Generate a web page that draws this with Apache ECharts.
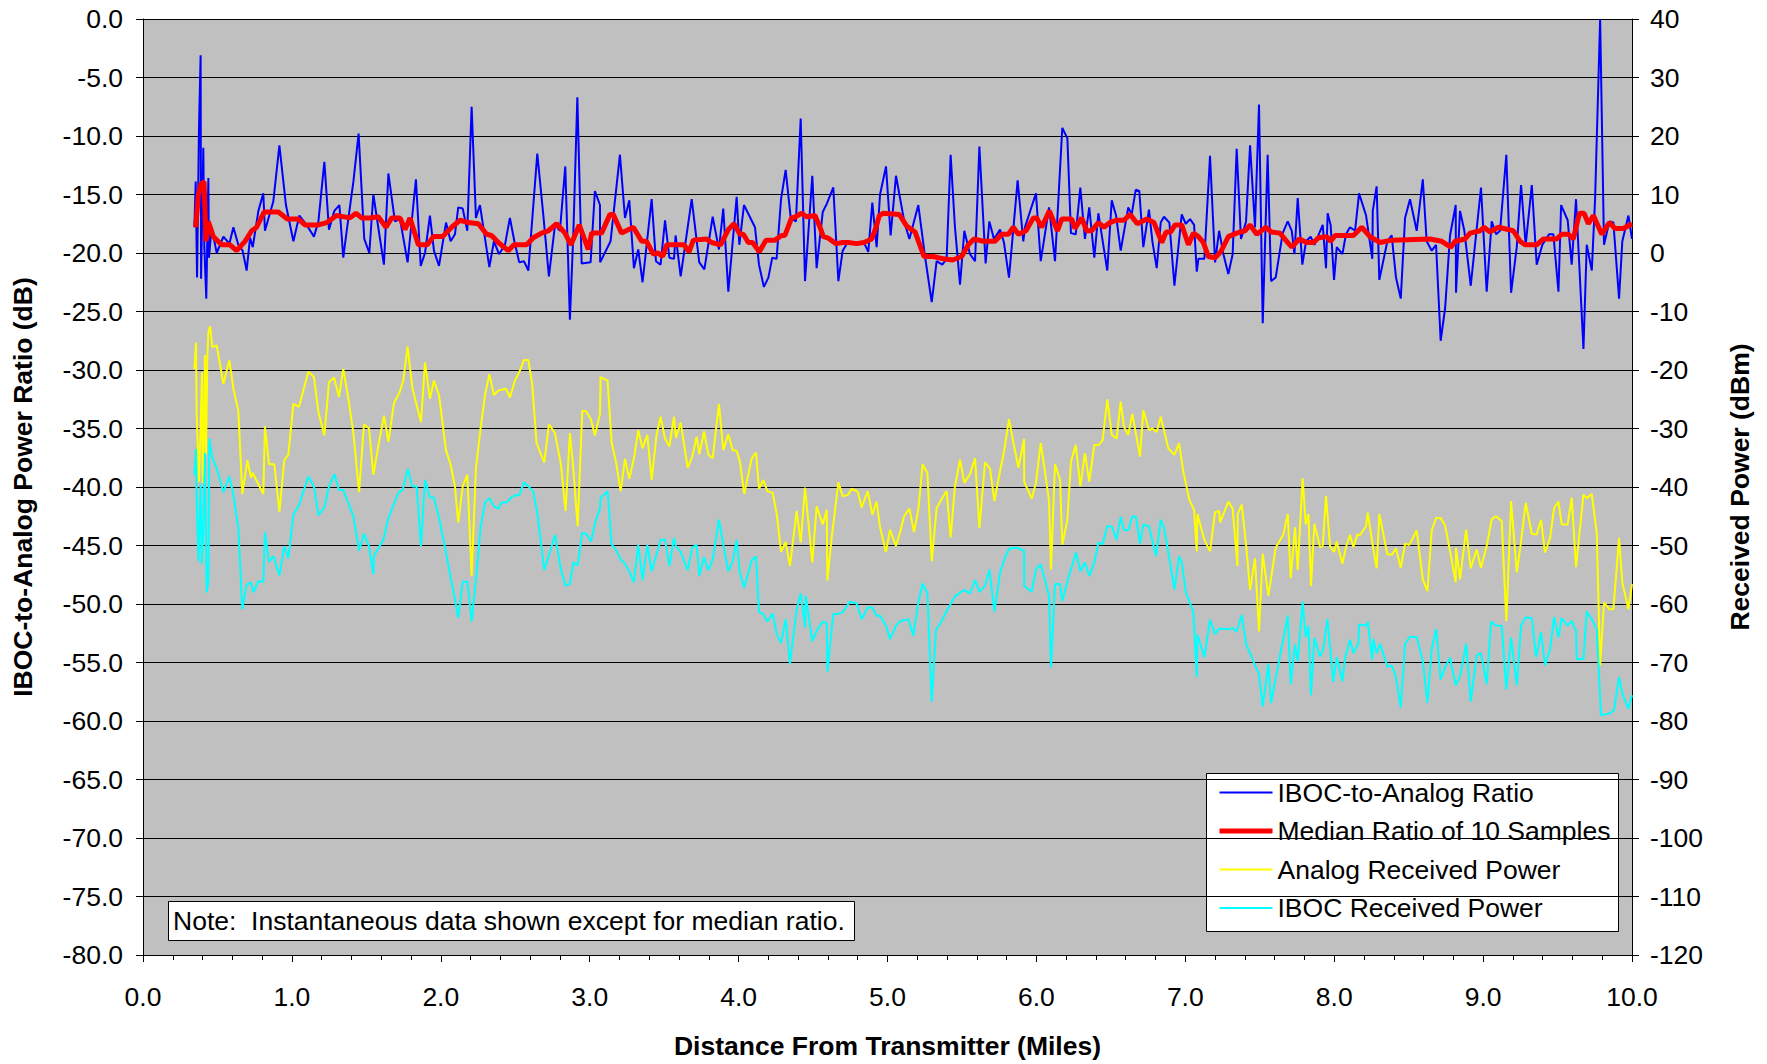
<!DOCTYPE html>
<html>
<head>
<meta charset="utf-8">
<title>IBOC-to-Analog Power Ratio</title>
<script src="https://cdn.jsdelivr.net/npm/echarts@6/dist/echarts.min.js"></script>
<style>
  html, body { margin: 0; padding: 0; background: #fff; }
  #main { width: 1767px; height: 1064px; }
</style>
</head>
<body>
<div id="main"></div>
<script>
// IBOC-to-analog ratio (dB, left axis)
const ratioMiles = [
  0.345, 0.354, 0.363, 0.376, 0.387, 0.390, 0.405, 0.412, 0.425, 0.439, 0.443, 0.461, 0.495, 0.540, 0.580, 0.607,
  0.640, 0.669, 0.696, 0.719, 0.737, 0.775, 0.808, 0.819, 0.875, 0.916, 0.960, 1.010, 1.050, 1.099, 1.148, 1.178,
  1.218, 1.249, 1.285, 1.319, 1.345, 1.368, 1.413, 1.448, 1.486, 1.520, 1.547, 1.580, 1.618, 1.648, 1.692, 1.726,
  1.777, 1.833, 1.865, 1.894, 1.927, 1.954, 1.988, 2.035, 2.066, 2.095, 2.117, 2.147, 2.178, 2.207, 2.236, 2.263,
  2.326, 2.357, 2.391, 2.431, 2.464, 2.494, 2.527, 2.558, 2.588, 2.610, 2.648, 2.688, 2.726, 2.767, 2.800, 2.836,
  2.867, 2.890, 2.917, 2.946, 3.006, 3.035, 3.069, 3.070, 3.140, 3.203, 3.237, 3.266, 3.297, 3.326, 3.355, 3.416,
  3.445, 3.476, 3.506, 3.535, 3.566, 3.577, 3.611, 3.685, 3.736, 3.770, 3.826, 3.868, 3.897, 3.931, 3.987, 4.005,
  4.036, 4.110, 4.137, 4.170, 4.200, 4.226, 4.255, 4.285, 4.316, 4.350, 4.385, 4.417, 4.446, 4.495, 4.524, 4.565,
  4.592, 4.636, 4.670, 4.699, 4.737, 4.793, 4.838, 4.871, 4.898, 4.927, 4.950, 4.990, 5.021, 5.057, 5.114, 5.147,
  5.207, 5.252, 5.297, 5.330, 5.368, 5.397, 5.424, 5.453, 5.487, 5.516, 5.554, 5.588, 5.617, 5.659, 5.684, 5.715,
  5.756, 5.782, 5.816, 5.874, 5.912, 5.923, 5.997, 6.029, 6.085, 6.125, 6.174, 6.208, 6.232, 6.264, 6.295, 6.326,
  6.355, 6.389, 6.416, 6.476, 6.506, 6.535, 6.566, 6.617, 6.640, 6.667, 6.691, 6.718, 6.756, 6.779, 6.808, 6.835,
  6.857, 6.893, 6.927, 6.976, 7.003, 7.032, 7.059, 7.077, 7.088, 7.128, 7.166, 7.200, 7.227, 7.256, 7.289, 7.318,
  7.345, 7.374, 7.408, 7.435, 7.468, 7.495, 7.520, 7.553, 7.576, 7.607, 7.654, 7.688, 7.715, 7.733, 7.755, 7.786,
  7.811, 7.842, 7.867, 7.923, 7.945, 7.956, 7.976, 7.999, 8.017, 8.055, 8.079, 8.106, 8.140, 8.167, 8.214, 8.256,
  8.259, 8.285, 8.303, 8.357, 8.386, 8.415, 8.447, 8.476, 8.509, 8.554, 8.595, 8.621, 8.655, 8.684, 8.715, 8.745,
  8.778, 8.816, 8.818, 8.845, 8.874, 8.917, 8.986, 9.024, 9.058, 9.087, 9.114, 9.156, 9.188, 9.226, 9.255, 9.286,
  9.327, 9.360, 9.398, 9.443, 9.472, 9.506, 9.524, 9.568, 9.595, 9.624, 9.674, 9.696, 9.730, 9.752, 9.786, 9.812,
  9.848, 9.875, 9.913, 9.935, 9.976, 10.000
];
const ratioDb = [
  -17.8, -13.9, -22.1, -9.3, -3.1, -22.2, -11.0, -19.5, -23.9, -13.6, -20.4, -17.8, -20.0, -18.6, -19.2, -17.8,
  -19.3, -19.8, -21.5, -18.7, -19.5, -16.4, -14.9, -18.1, -15.6, -10.8, -15.9, -19.0, -16.8, -17.6, -18.6, -17.3,
  -12.2, -18.0, -16.4, -15.9, -20.4, -18.1, -13.9, -9.8, -18.8, -20.0, -15.0, -17.8, -21.0, -13.2, -17.3, -17.1,
  -20.8, -13.7, -21.1, -20.0, -16.8, -19.8, -21.1, -17.4, -19.0, -18.4, -16.1, -16.2, -18.1, -7.5, -17.0, -15.9,
  -21.2, -19.0, -20.1, -19.3, -17.0, -19.0, -20.8, -20.7, -21.5, -17.8, -11.5, -16.7, -22.0, -17.6, -18.1, -12.6,
  -25.7, -18.4, -6.7, -20.9, -20.8, -14.7, -15.9, -20.8, -19.0, -11.6, -17.0, -15.5, -21.3, -19.7, -22.5, -15.4,
  -20.7, -21.0, -17.2, -20.4, -20.5, -18.5, -22.0, -15.4, -20.8, -21.4, -16.9, -19.7, -16.2, -23.3, -15.2, -19.3,
  -15.9, -17.8, -21.0, -22.9, -22.1, -20.4, -20.5, -15.4, -12.9, -17.0, -17.3, -8.5, -22.4, -13.4, -21.3, -16.5,
  -15.8, -14.4, -22.4, -19.8, -19.0, -19.3, -19.0, -19.9, -15.7, -19.5, -15.0, -12.6, -18.5, -13.4, -17.4, -18.8,
  -15.9, -20.3, -24.2, -20.7, -21.0, -20.5, -11.6, -17.8, -22.7, -18.1, -20.1, -20.7, -10.9, -20.9, -17.3, -18.8,
  -18.0, -19.1, -22.1, -13.8, -19.0, -17.8, -14.9, -20.7, -16.1, -20.7, -9.3, -10.2, -18.3, -18.4, -14.4, -18.8,
  -16.1, -20.4, -16.6, -21.5, -15.5, -16.8, -19.8, -16.1, -16.7, -14.6, -14.7, -19.5, -16.3, -19.0, -21.3, -17.4,
  -16.9, -17.4, -22.8, -16.7, -17.5, -17.1, -17.6, -21.6, -20.5, -20.5, -11.7, -20.8, -18.1, -20.1, -21.8, -20.1,
  -11.1, -18.8, -17.3, -10.8, -17.8, -7.3, -26.0, -11.6, -22.4, -22.1, -18.3, -17.3, -18.1, -20.1, -15.3, -21.0,
  -19.0, -18.6, -19.3, -17.6, -21.3, -16.6, -17.6, -22.3, -19.5, -20.1, -18.4, -17.8, -18.1, -14.9, -16.8, -20.5,
  -16.4, -14.3, -22.3, -19.0, -18.5, -22.1, -23.9, -17.0, -15.4, -18.1, -13.7, -19.0, -19.8, -19.3, -27.5, -24.7,
  -18.5, -15.9, -23.4, -16.4, -18.1, -22.8, -14.4, -23.3, -17.3, -18.4, -18.1, -11.6, -23.4, -19.5, -14.2, -19.3,
  -14.2, -21.0, -19.3, -18.4, -18.4, -23.3, -15.9, -17.2, -21.0, -15.4, -28.2, -19.3, -21.5, -15.4, 0.0, -19.3,
  -17.3, -17.4, -23.9, -19.0, -16.8, -18.8
];

// median ratio of 10 samples (dB, left axis)
const medianMiles = [
  0.354, 0.372, 0.390, 0.410, 0.423, 0.439, 0.472, 0.528, 0.584, 0.629, 0.685, 0.730, 0.763, 0.813, 0.909, 0.969,
  1.043, 1.088, 1.178, 1.234, 1.301, 1.390, 1.430, 1.468, 1.524, 1.580, 1.632, 1.670, 1.726, 1.760, 1.793, 1.849,
  1.909, 1.950, 2.012, 2.073, 2.129, 2.185, 2.252, 2.308, 2.341, 2.386, 2.453, 2.491, 2.576, 2.621, 2.677, 2.722,
  2.778, 2.834, 2.874, 2.930, 2.990, 3.013, 3.080, 3.136, 3.158, 3.214, 3.293, 3.349, 3.382, 3.427, 3.460, 3.490,
  3.517, 3.633, 3.667, 3.696, 3.785, 3.819, 3.879, 3.931, 3.969, 4.009, 4.032, 4.065, 4.094, 4.139, 4.184, 4.244,
  4.289, 4.311, 4.356, 4.385, 4.423, 4.457, 4.513, 4.547, 4.569, 4.598, 4.654, 4.699, 4.737, 4.793, 4.842, 4.894,
  4.923, 4.945, 4.972, 5.079, 5.129, 5.185, 5.245, 5.308, 5.375, 5.438, 5.498, 5.543, 5.581, 5.644, 5.722, 5.767,
  5.812, 5.845, 5.879, 5.930, 5.979, 6.002, 6.035, 6.087, 6.141, 6.170, 6.237, 6.259, 6.304, 6.338, 6.371, 6.416,
  6.454, 6.494, 6.535, 6.588, 6.629, 6.678, 6.741, 6.790, 6.842, 6.871, 6.902, 6.931, 6.976, 7.021, 7.054, 7.088,
  7.121, 7.155, 7.200, 7.238, 7.289, 7.345, 7.401, 7.435, 7.480, 7.542, 7.576, 7.636, 7.681, 7.715, 7.766, 7.815,
  7.860, 7.894, 7.950, 7.976, 8.006, 8.129, 8.185, 8.240, 8.308, 8.386, 8.644, 8.722, 8.783, 8.812, 8.879, 8.913,
  8.980, 9.006, 9.047, 9.103, 9.203, 9.248, 9.282, 9.360, 9.405, 9.494, 9.528, 9.573, 9.606, 9.647, 9.678, 9.707,
  9.741, 9.797, 9.848, 9.886, 9.942, 10.000
];
const medianDb = [
  -17.8, -15.0, -14.1, -13.9, -19.0, -17.3, -18.6, -19.3, -19.3, -19.8, -19.0, -18.1, -17.8, -16.5, -16.5, -17.1,
  -17.1, -17.6, -17.6, -17.4, -16.8, -17.0, -16.6, -17.0, -17.0, -16.9, -17.8, -17.0, -17.0, -18.0, -17.0, -19.3,
  -19.3, -18.6, -18.6, -17.8, -17.2, -17.4, -17.5, -18.4, -18.5, -19.1, -19.8, -19.3, -19.3, -18.7, -18.3, -18.1,
  -17.5, -18.3, -19.3, -17.6, -19.7, -18.3, -18.3, -16.7, -16.7, -18.3, -17.8, -19.0, -19.0, -20.1, -20.0, -20.3,
  -19.3, -19.3, -19.9, -18.9, -18.8, -19.1, -19.3, -18.0, -17.5, -18.4, -18.4, -19.1, -19.1, -19.9, -18.9, -18.9,
  -18.5, -18.5, -17.0, -16.9, -16.6, -16.9, -16.8, -17.8, -18.6, -18.7, -19.2, -19.1, -19.1, -19.2, -19.1, -18.8,
  -17.8, -16.8, -16.6, -16.7, -17.7, -18.2, -20.3, -20.3, -20.5, -20.6, -20.3, -19.3, -18.8, -19.0, -19.0, -18.4,
  -18.4, -17.8, -18.4, -18.1, -17.0, -17.0, -17.8, -16.4, -18.1, -17.1, -17.1, -17.9, -17.0, -18.1, -18.1, -17.4,
  -17.8, -17.4, -17.2, -17.2, -16.7, -17.5, -17.1, -17.4, -19.1, -18.2, -18.2, -17.6, -17.6, -19.3, -18.3, -18.6,
  -19.1, -20.3, -20.4, -19.9, -18.6, -18.3, -18.1, -17.6, -18.4, -17.8, -18.2, -18.3, -19.0, -19.5, -18.8, -19.1,
  -19.1, -18.7, -18.6, -19.0, -18.5, -18.5, -17.8, -18.6, -19.1, -18.9, -18.8, -19.0, -19.5, -19.0, -18.8, -18.3,
  -18.1, -17.8, -18.2, -17.8, -18.1, -19.0, -19.3, -19.3, -18.8, -18.8, -18.4, -18.4, -18.8, -16.6, -16.6, -17.5,
  -16.8, -18.4, -17.4, -17.9, -17.9, -17.5
];

// analog received power (dBm, right axis)
const analogMiles = [
  0.345, 0.356, 0.360, 0.376, 0.387, 0.396, 0.401, 0.410, 0.416, 0.423, 0.432, 0.439, 0.450, 0.466, 0.495, 0.540,
  0.580, 0.607, 0.640, 0.667, 0.701, 0.725, 0.737, 0.808, 0.819, 0.846, 0.882, 0.916, 0.949, 0.976, 1.010, 1.048,
  1.110, 1.148, 1.178, 1.218, 1.249, 1.283, 1.316, 1.345, 1.379, 1.413, 1.451, 1.484, 1.518, 1.547, 1.585, 1.619,
  1.648, 1.686, 1.722, 1.748, 1.777, 1.809, 1.867, 1.894, 1.927, 1.954, 1.988, 2.035, 2.066, 2.095, 2.117, 2.147,
  2.178, 2.207, 2.236, 2.267, 2.297, 2.326, 2.357, 2.386, 2.438, 2.464, 2.498, 2.527, 2.558, 2.588, 2.614, 2.643,
  2.695, 2.726, 2.767, 2.807, 2.838, 2.867, 2.890, 2.919, 2.950, 2.975, 3.008, 3.035, 3.069, 3.073, 3.120, 3.147,
  3.176, 3.208, 3.237, 3.266, 3.299, 3.326, 3.355, 3.387, 3.416, 3.449, 3.476, 3.506, 3.535, 3.566, 3.579, 3.611,
  3.658, 3.689, 3.718, 3.736, 3.768, 3.797, 3.826, 3.868, 3.897, 3.931, 3.960, 3.987, 4.009, 4.038, 4.088, 4.117,
  4.137, 4.166, 4.193, 4.229, 4.256, 4.285, 4.316, 4.345, 4.390, 4.417, 4.446, 4.495, 4.524, 4.565, 4.592, 4.596,
  4.625, 4.670, 4.699, 4.737, 4.759, 4.800, 4.826, 4.867, 4.898, 4.927, 4.950, 4.990, 5.017, 5.057, 5.086, 5.111,
  5.147, 5.178, 5.207, 5.236, 5.268, 5.297, 5.330, 5.368, 5.397, 5.424, 5.453, 5.487, 5.516, 5.554, 5.588, 5.617,
  5.655, 5.688, 5.718, 5.751, 5.782, 5.816, 5.845, 5.879, 5.917, 5.918, 5.968, 5.997, 6.029, 6.058, 6.085, 6.098,
  6.125, 6.159, 6.174, 6.208, 6.232, 6.264, 6.295, 6.326, 6.355, 6.389, 6.420, 6.445, 6.476, 6.506, 6.539, 6.566,
  6.588, 6.617, 6.644, 6.696, 6.718, 6.756, 6.779, 6.808, 6.835, 6.886, 6.927, 6.958, 6.987, 7.027, 7.059, 7.077,
  7.081, 7.128, 7.166, 7.200, 7.227, 7.233, 7.289, 7.318, 7.350, 7.352, 7.379, 7.408, 7.435, 7.468, 7.495, 7.520,
  7.558, 7.607, 7.659, 7.688, 7.708, 7.737, 7.755, 7.788, 7.809, 7.827, 7.844, 7.867, 7.905, 7.923, 7.945, 7.972,
  7.999, 8.017, 8.055, 8.079, 8.106, 8.129, 8.156, 8.174, 8.214, 8.225, 8.256, 8.285, 8.303, 8.357, 8.386, 8.415,
  8.447, 8.476, 8.505, 8.554, 8.595, 8.626, 8.655, 8.684, 8.715, 8.745, 8.778, 8.816, 8.818, 8.845, 8.886, 8.917,
  8.957, 8.986, 9.024, 9.058, 9.087, 9.125, 9.156, 9.188, 9.226, 9.255, 9.286, 9.327, 9.360, 9.389, 9.416, 9.450,
  9.477, 9.506, 9.528, 9.568, 9.595, 9.624, 9.674, 9.696, 9.730, 9.763, 9.786, 9.812, 9.848, 9.875, 9.913, 9.935,
  9.976, 10.000
];
const analogDbm = [
  -19.8, -15.3, -27.2, -39.1, -29.7, -20.4, -39.3, -29.7, -17.5, -34.5, -17.8, -13.6, -12.5, -16.1, -15.8, -22.4,
  -18.3, -23.2, -26.9, -41.2, -35.4, -38.4, -37.6, -41.2, -29.6, -36.1, -36.1, -44.2, -35.4, -34.5, -25.8, -26.3,
  -20.3, -21.2, -27.2, -31.2, -22.1, -21.3, -24.6, -19.8, -24.9, -30.8, -40.9, -29.3, -30.0, -37.9, -32.3, -27.8,
  -32.3, -25.6, -23.9, -21.8, -16.0, -23.1, -28.9, -18.7, -24.9, -21.8, -24.3, -33.7, -36.2, -39.9, -46.1, -39.9,
  -37.9, -55.2, -36.8, -30.0, -24.3, -20.7, -24.3, -23.5, -23.2, -24.7, -21.8, -20.4, -18.3, -18.3, -22.4, -32.5,
  -35.8, -29.3, -30.8, -36.2, -44.1, -30.8, -36.8, -46.7, -27.0, -27.0, -28.4, -31.2, -27.5, -21.2, -21.8, -32.3,
  -35.7, -40.7, -35.2, -38.6, -34.8, -30.3, -33.4, -31.1, -38.8, -31.1, -28.0, -31.7, -33.1, -28.0, -31.6, -29.0,
  -36.7, -34.8, -31.4, -34.4, -30.5, -34.5, -35.1, -25.8, -33.7, -31.0, -33.7, -33.8, -35.7, -41.2, -35.1, -34.1,
  -40.3, -38.8, -40.7, -41.0, -44.6, -51.1, -49.4, -53.5, -44.1, -49.5, -40.1, -52.9, -43.3, -46.4, -43.9, -56.0,
  -48.7, -39.2, -41.6, -41.3, -40.3, -40.8, -43.5, -40.7, -44.7, -42.5, -46.9, -51.1, -47.3, -50.1, -47.6, -45.0,
  -43.7, -47.7, -43.9, -36.1, -37.6, -52.7, -43.6, -41.9, -40.7, -48.6, -39.9, -35.3, -39.3, -37.8, -35.1, -47.0,
  -35.8, -36.8, -42.4, -37.9, -34.0, -28.4, -32.3, -36.7, -31.8, -39.1, -42.0, -39.3, -32.5, -37.4, -42.5, -54.1,
  -36.1, -38.8, -49.9, -45.6, -35.7, -32.8, -39.9, -34.2, -39.1, -32.8, -32.8, -32.0, -25.0, -31.1, -31.7, -25.4,
  -29.7, -31.1, -27.5, -34.8, -26.9, -30.3, -30.0, -30.6, -28.0, -33.4, -34.5, -32.5, -37.4, -42.2, -43.9, -51.0,
  -44.6, -49.0, -51.0, -44.3, -44.1, -46.1, -42.5, -43.7, -53.5, -44.7, -43.0, -49.8, -57.6, -52.2, -64.7, -51.4,
  -58.6, -50.4, -48.1, -44.6, -55.6, -46.9, -54.2, -38.5, -46.4, -44.6, -56.9, -46.3, -50.3, -50.1, -41.5, -50.1,
  -51.1, -49.3, -53.1, -50.3, -48.2, -50.3, -48.1, -48.2, -46.7, -44.4, -49.5, -53.9, -44.6, -51.5, -51.6, -50.5,
  -53.8, -49.7, -49.9, -47.4, -55.8, -57.8, -47.4, -45.3, -45.3, -46.6, -51.0, -56.3, -50.4, -55.8, -47.3, -53.9,
  -50.7, -53.8, -50.1, -45.5, -45.0, -45.8, -62.9, -42.4, -54.6, -49.3, -42.7, -48.0, -48.1, -45.6, -51.2, -48.7,
  -43.6, -42.5, -46.4, -46.4, -41.8, -53.7, -41.3, -41.9, -41.2, -47.8, -70.5, -59.7, -60.9, -60.9, -48.7, -56.3,
  -60.9, -56.6
];

// IBOC received power (dBm, right axis)
const ibocMiles = [
  0.345, 0.356, 0.360, 0.372, 0.387, 0.394, 0.405, 0.416, 0.428, 0.439, 0.445, 0.466, 0.495, 0.540, 0.580, 0.607,
  0.640, 0.667, 0.696, 0.725, 0.741, 0.775, 0.808, 0.819, 0.846, 0.875, 0.916, 0.949, 0.976, 1.010, 1.048, 1.110,
  1.148, 1.178, 1.218, 1.249, 1.285, 1.316, 1.345, 1.413, 1.451, 1.484, 1.518, 1.547, 1.551, 1.614, 1.648, 1.715,
  1.744, 1.777, 1.809, 1.838, 1.867, 1.894, 1.927, 1.954, 1.988, 2.035, 2.066, 2.095, 2.117, 2.147, 2.178, 2.207,
  2.236, 2.267, 2.297, 2.326, 2.357, 2.386, 2.408, 2.442, 2.476, 2.505, 2.527, 2.558, 2.588, 2.621, 2.648, 2.695,
  2.733, 2.767, 2.807, 2.838, 2.867, 2.890, 2.919, 2.950, 2.979, 3.008, 3.040, 3.069, 3.073, 3.120, 3.147, 3.176,
  3.208, 3.237, 3.266, 3.297, 3.326, 3.355, 3.387, 3.416, 3.449, 3.476, 3.506, 3.535, 3.566, 3.579, 3.611, 3.658,
  3.689, 3.718, 3.736, 3.768, 3.797, 3.826, 3.868, 3.897, 3.931, 3.960, 3.987, 4.009, 4.038, 4.088, 4.117, 4.137,
  4.166, 4.193, 4.229, 4.256, 4.285, 4.316, 4.345, 4.390, 4.417, 4.446, 4.451, 4.495, 4.524, 4.565, 4.592, 4.596,
  4.636, 4.670, 4.699, 4.748, 4.793, 4.826, 4.867, 4.898, 4.927, 4.950, 4.990, 5.017, 5.057, 5.088, 5.140, 5.174,
  5.207, 5.236, 5.268, 5.297, 5.326, 5.364, 5.397, 5.453, 5.514, 5.554, 5.588, 5.617, 5.655, 5.684, 5.718, 5.756,
  5.789, 5.818, 5.872, 5.917, 5.918, 5.968, 5.997, 6.029, 6.085, 6.098, 6.125, 6.159, 6.174, 6.208, 6.266, 6.295,
  6.326, 6.355, 6.389, 6.416, 6.445, 6.476, 6.506, 6.539, 6.566, 6.588, 6.617, 6.644, 6.669, 6.696, 6.718, 6.756,
  6.803, 6.835, 6.857, 6.886, 6.927, 6.958, 6.976, 7.003, 7.054, 7.077, 7.081, 7.128, 7.166, 7.200, 7.227, 7.289,
  7.318, 7.345, 7.379, 7.408, 7.446, 7.468, 7.495, 7.520, 7.558, 7.576, 7.632, 7.688, 7.708, 7.737, 7.755, 7.788,
  7.809, 7.827, 7.844, 7.867, 7.905, 7.927, 7.954, 7.994, 8.017, 8.055, 8.073, 8.106, 8.129, 8.162, 8.167, 8.218,
  8.225, 8.256, 8.263, 8.285, 8.308, 8.357, 8.386, 8.415, 8.447, 8.476, 8.509, 8.554, 8.595, 8.626, 8.655, 8.684,
  8.715, 8.745, 8.778, 8.816, 8.845, 8.886, 8.917, 8.957, 8.986, 9.024, 9.054, 9.087, 9.125, 9.156, 9.188, 9.226,
  9.255, 9.286, 9.327, 9.356, 9.389, 9.416, 9.450, 9.477, 9.506, 9.528, 9.568, 9.595, 9.624, 9.629, 9.674, 9.696,
  9.730, 9.763, 9.792, 9.848, 9.879, 9.913, 9.935, 9.976, 10.000
];
const ibocDbm = [
  -37.9, -33.5, -41.3, -52.7, -39.6, -53.2, -47.6, -34.2, -58.0, -56.1, -31.7, -35.1, -36.8, -40.9, -38.2, -41.3,
  -47.0, -60.9, -56.7, -56.3, -58.0, -56.1, -56.2, -47.8, -52.8, -51.8, -55.1, -50.1, -52.2, -44.7, -43.1, -38.2,
  -39.9, -44.8, -43.5, -39.9, -37.8, -40.5, -40.5, -45.0, -50.9, -48.0, -50.1, -54.9, -51.8, -49.0, -45.3, -41.0,
  -40.5, -36.9, -39.9, -39.9, -50.1, -38.8, -41.8, -41.8, -45.3, -51.2, -55.5, -59.2, -62.4, -56.2, -56.2, -63.0,
  -55.8, -47.0, -42.7, -41.9, -43.3, -43.7, -42.7, -42.6, -41.7, -41.4, -41.4, -39.2, -39.9, -40.8, -44.4, -54.2,
  -51.1, -48.2, -54.2, -56.9, -56.5, -52.9, -53.4, -47.8, -48.1, -49.3, -45.8, -43.7, -41.9, -40.7, -49.8, -50.7,
  -52.4, -53.1, -54.4, -56.3, -49.9, -55.9, -49.9, -54.4, -51.5, -49.0, -49.0, -53.5, -48.7, -50.1, -51.1, -54.2,
  -50.3, -49.9, -55.2, -52.0, -54.2, -52.4, -45.6, -49.8, -54.4, -52.7, -49.1, -54.8, -57.2, -52.5, -51.9, -61.4,
  -61.7, -63.0, -61.6, -65.1, -66.7, -62.6, -70.2, -60.9, -58.2, -64.0, -58.6, -66.4, -64.6, -63.0, -63.3, -71.6,
  -61.7, -61.7, -61.4, -59.6, -59.9, -62.6, -60.6, -60.6, -62.0, -62.0, -63.7, -66.0, -63.7, -62.9, -62.6, -65.4,
  -59.7, -56.5, -58.2, -76.7, -64.4, -62.9, -61.2, -58.7, -57.6, -58.2, -55.9, -57.9, -56.9, -54.1, -61.3, -54.6,
  -52.1, -50.5, -50.4, -50.9, -56.9, -57.9, -54.1, -53.2, -58.6, -70.8, -56.6, -56.6, -59.5, -56.1, -51.2, -54.4,
  -52.9, -55.2, -52.9, -49.5, -49.8, -46.7, -46.7, -49.0, -45.1, -47.3, -47.4, -45.0, -45.1, -49.7, -46.4, -46.7,
  -51.8, -45.6, -47.0, -51.2, -57.5, -51.8, -52.9, -57.9, -61.4, -72.5, -65.2, -69.1, -62.7, -65.1, -64.2, -64.3,
  -64.1, -64.7, -61.9, -66.8, -69.1, -70.5, -71.9, -77.5, -70.2, -76.9, -69.4, -62.0, -73.7, -66.9, -69.8, -59.6,
  -65.7, -63.7, -75.6, -65.8, -69.0, -67.7, -62.6, -73.3, -69.1, -73.2, -69.2, -66.1, -68.4, -66.8, -63.5, -63.7,
  -63.0, -69.5, -66.0, -68.4, -66.8, -70.7, -70.5, -72.5, -77.7, -66.8, -65.6, -65.7, -69.7, -76.9, -67.7, -64.3,
  -72.9, -70.8, -69.2, -73.9, -72.4, -66.8, -76.7, -68.8, -68.4, -73.7, -63.0, -63.7, -63.7, -74.6, -65.7, -73.9,
  -63.7, -62.3, -62.4, -69.1, -64.8, -70.5, -67.7, -62.2, -65.7, -62.4, -63.7, -62.9, -64.6, -69.4, -69.4, -61.3,
  -62.6, -64.3, -79.0, -78.7, -78.2, -72.5, -75.3, -77.9, -75.6
];

const seriesNames = ['IBOC-to-Analog Ratio', 'Median Ratio of 10 Samples', 'Analog Received Power', 'IBOC Received Power'];
const noteText = 'Note:  Instantaneous data shown except for median ratio.';

const FONT = '"Liberation Sans", Arial, sans-serif';
const FS = 26.5;

const pairs = (xs, ys) => xs.map((x, i) => [x, ys[i]]);

let myChart = echarts.init(document.getElementById('main'), null, { renderer: 'svg' });

const lineSeries = (name, xs, ys, color, width, axis) => ({
  name: name,
  type: 'line',
  yAxisIndex: axis,
  data: pairs(xs, ys),
  symbol: 'none',
  showSymbol: false,
  lineStyle: { color: color, width: width },
  itemStyle: { color: color },
  animation: false
});

let option = {
  backgroundColor: '#ffffff',
  textStyle: { fontFamily: FONT },
  animation: false,
  title: {
    text: noteText,
    left: 168,
    top: 901,
    backgroundColor: '#ffffff',
    borderColor: '#000000',
    borderWidth: 1,
    padding: [6, 10, 7, 5],
    textStyle: { fontFamily: FONT, fontSize: FS, fontWeight: 'normal', color: '#000' }
  },
  grid: {
    left: 143, right: 135, top: 19, bottom: 106,
    show: true,
    backgroundColor: '#C0C0C0',
    borderWidth: 0
  },
  legend: {
    data: [
      { name: seriesNames[0] },
      { name: seriesNames[1], lineStyle: { width: 5 } },
      { name: seriesNames[2] },
      { name: seriesNames[3] }
    ],
    orient: 'vertical',
    left: 1217,
    top: 779,
    padding: 0,
    itemWidth: 53,
    itemHeight: 14,
    itemGap: 11.5,
    itemStyle: { opacity: 0 },
    textStyle: { fontFamily: FONT, fontSize: FS, color: '#000' }
  },
  graphic: [{
    type: 'rect',
    left: 1206, top: 773,
    shape: { width: 412, height: 158 },
    style: { fill: '#ffffff', stroke: '#000000', lineWidth: 1 },
    z: 0
  }],
  xAxis: {
    type: 'value',
    min: 0, max: 10, interval: 1,
    name: 'Distance From Transmitter (Miles)',
    nameLocation: 'middle',
    nameGap: 77,
    nameTextStyle: { fontFamily: FONT, fontSize: FS, fontWeight: 'bold', color: '#000' },
    axisLine: { show: true, onZero: false, lineStyle: { color: '#000', width: 1 } },
    axisTick: { show: true, inside: false, length: 7, lineStyle: { color: '#000' } },
    minorTick: { show: true, splitNumber: 5, length: 5, lineStyle: { color: '#000' } },
    axisLabel: { fontFamily: FONT, fontSize: FS, color: '#000', margin: 28, formatter: v => v.toFixed(1) },
    splitLine: { show: false }
  },
  yAxis: [{
    type: 'value',
    position: 'left',
    min: -80, max: 0, interval: 5,
    name: 'IBOC-to-Analog Power Ratio (dB)',
    nameLocation: 'middle',
    nameRotate: 90,
    nameGap: 107,
    nameTextStyle: { fontFamily: FONT, fontSize: FS, fontWeight: 'bold', color: '#000' },
    axisLine: { show: true, lineStyle: { color: '#000', width: 1 } },
    axisTick: { show: true, inside: false, length: 7, lineStyle: { color: '#000' } },
    axisLabel: { fontFamily: FONT, fontSize: FS, color: '#000', margin: 20, formatter: v => v.toFixed(1) },
    splitLine: { show: true, lineStyle: { color: '#000', width: 1 } }
  }, {
    type: 'value',
    position: 'right',
    min: -120, max: 40, interval: 10,
    name: 'Received Power (dBm)',
    nameLocation: 'middle',
    nameRotate: 90,
    nameGap: 94,
    nameTextStyle: { fontFamily: FONT, fontSize: FS, fontWeight: 'bold', color: '#000' },
    axisLine: { show: true, lineStyle: { color: '#000', width: 1 } },
    axisTick: { show: true, inside: false, length: 7, lineStyle: { color: '#000' } },
    axisLabel: { fontFamily: FONT, fontSize: FS, color: '#000', margin: 18 },
    splitLine: { show: false }
  }],
  series: [
    lineSeries(seriesNames[0], ratioMiles, ratioDb, '#0000FF', 2, 0),
    lineSeries(seriesNames[1], medianMiles, medianDb, '#FF0000', 5, 0),
    lineSeries(seriesNames[2], analogMiles, analogDbm, '#FFFF00', 2, 1),
    lineSeries(seriesNames[3], ibocMiles, ibocDbm, '#00FFFF', 2, 1)
  ]
};

myChart.setOption(option);
</script>
</body>
</html>
